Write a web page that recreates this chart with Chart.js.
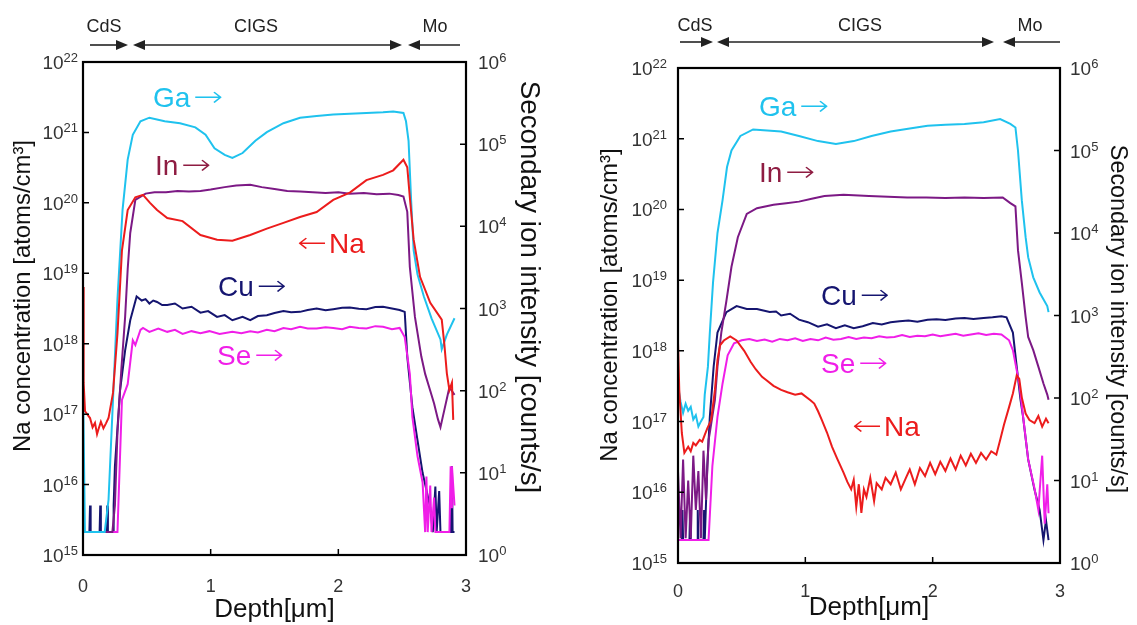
<!DOCTYPE html>
<html>
<head>
<meta charset="utf-8">
<script src="https://cdn.jsdelivr.net/npm/chart.js@4.4.1/dist/chart.umd.min.js"></script>
<style>
  body { margin: 0; background: #fff; }
  #wrap { position: relative; width: 1137px; height: 625px; }
  canvas { position: absolute; top: 0; }
  #left { left: 0; }
  #right { left: 568px; }
</style>
</head>
<body>
<div id="wrap">
  <canvas id="left" width="568" height="625"></canvas>
  <canvas id="right" width="569" height="625"></canvas>
</div>
<script>
const FONT = '"Liberation Sans", Arial, sans-serif';

// axis ticks: exponents of the two log axes, depth ticks in um
const naExp = [15, 16, 17, 18, 19, 20, 21, 22];
const ionExp = [0, 1, 2, 3, 4, 5, 6];
const depthTicks = [0, 1, 2, 3];

// ---- left panel, [depth um, value] ----
// Na in atoms/cm3, the rest in counts/s
const gaA = [[0,130],[0.015,1.9],[0.17,1.9],[0.2,4.7],[0.235,78],[0.27,1300],[0.31,16000],[0.35,65000],[0.39,130000],[0.45,190000],[0.52,210000],[0.64,190000],[0.76,180000],[0.88,160000],[0.96,130000],[1.03,89000],[1.11,74000],[1.17,68000],[1.25,78000],[1.35,110000],[1.44,140000],[1.57,180000],[1.7,210000],[1.83,220000],[1.96,230000],[2.09,235000],[2.22,240000],[2.35,245000],[2.43,250000],[2.51,240000],[2.53,190000],[2.55,110000],[2.57,21000],[2.59,5100],[2.62,2600],[2.67,1400],[2.73,760],[2.8,420],[2.81,320],[2.85,480],[2.91,760]];
const inA = [[0,1.9],[0.23,1.9],[0.25,4],[0.27,31],[0.3,180],[0.33,790],[0.35,3000],[0.37,8300],[0.41,21000],[0.49,25000],[0.56,26000],[0.65,26000],[0.74,27000],[0.83,26500],[0.92,27000],[1.0,28000],[1.11,30000],[1.2,31500],[1.31,32000],[1.4,30000],[1.5,28500],[1.6,27000],[1.7,26500],[1.8,26000],[1.9,25500],[2.0,26000],[2.09,25000],[2.2,25500],[2.3,24500],[2.4,25000],[2.47,24000],[2.51,23000],[2.54,15000],[2.56,3200],[2.6,790],[2.65,260],[2.68,160],[2.72,100],[2.75,70],[2.78,45],[2.8,36],[2.83,58],[2.87,110],[2.91,89]];
const naA = [[0,6.4e18],[0.005,2.8e17],[0.016,1.1e17],[0.055,8.8e16],[0.075,6.5e16],[0.094,7.5e16],[0.11,5.2e16],[0.12,6.0e16],[0.14,7.8e16],[0.16,6.3e16],[0.18,7.4e16],[0.2,8.8e16],[0.235,2.0e17],[0.27,1.4e18],[0.305,2.1e19],[0.35,7.9e19],[0.41,1.2e20],[0.47,1.3e20],[0.525,1.0e20],[0.58,7.9e19],[0.66,6.1e19],[0.78,5.5e19],[0.92,3.5e19],[1.05,3.0e19],[1.17,2.9e19],[1.31,3.5e19],[1.44,4.3e19],[1.57,5.2e19],[1.7,6.3e19],[1.83,7.4e19],[1.96,1.1e20],[2.09,1.4e20],[2.22,2.1e20],[2.35,2.5e20],[2.43,2.9e20],[2.51,4.1e20],[2.54,3.2e20],[2.56,1.2e20],[2.59,3.0e19],[2.64,8.9e18],[2.72,3.8e18],[2.81,2.2e18],[2.83,1.0e18],[2.85,3.8e17],[2.87,2.2e17],[2.89,2.8e17],[2.9,8.3e16]];
const cuA = [[0,1.9],[0.05,1.9],[0.055,4],[0.06,1.9],[0.13,1.9],[0.135,4],[0.14,1.9],[0.185,1.9],[0.19,4],[0.195,1.9],[0.235,1.9],[0.24,4],[0.25,12],[0.29,100],[0.33,310],[0.37,720],[0.42,1400],[0.46,1250],[0.49,1300],[0.52,1150],[0.55,1250],[0.58,1200],[0.62,1100],[0.66,1100],[0.72,1150],[0.78,1000],[0.85,1050],[0.92,890],[0.98,930],[1.05,790],[1.11,830],[1.17,720],[1.25,790],[1.31,720],[1.37,810],[1.44,830],[1.5,880],[1.57,930],[1.63,900],[1.7,910],[1.76,960],[1.83,1000],[1.9,950],[1.96,980],[2.03,1020],[2.09,1030],[2.16,990],[2.22,980],[2.29,1040],[2.35,1050],[2.42,1000],[2.48,960],[2.52,910],[2.54,260],[2.58,63],[2.62,25],[2.66,10],[2.72,3.8],[2.74,1.9],[2.76,6.8],[2.77,1.9],[2.79,6],[2.8,1.9],[2.88,1.9],[2.89,12],[2.895,1.9],[2.91,1.9]];
const seA = [[0,1.9],[0.27,1.9],[0.305,77],[0.35,120],[0.39,410],[0.41,360],[0.45,550],[0.47,580],[0.52,520],[0.59,570],[0.66,520],[0.72,550],[0.78,490],[0.85,530],[0.92,500],[0.99,530],[1.07,490],[1.17,520],[1.24,500],[1.31,530],[1.37,510],[1.44,550],[1.5,530],[1.57,580],[1.63,560],[1.7,600],[1.76,570],[1.83,570],[1.9,590],[1.96,580],[2.03,560],[2.09,600],[2.16,580],[2.22,570],[2.29,610],[2.35,600],[2.42,560],[2.48,580],[2.52,450],[2.56,160],[2.58,48],[2.62,16],[2.66,7.6],[2.68,1.9],[2.69,9],[2.7,1.9],[2.72,7],[2.73,1.9],[2.75,5],[2.76,1.9],[2.87,1.9],[2.88,12],[2.885,3.8],[2.89,12],[2.91,4]];

// ---- right panel ----
const gaB = [[0,140],[0.02,90],[0.04,66],[0.06,85],[0.08,70],[0.1,78],[0.12,55],[0.14,62],[0.16,45],[0.18,52],[0.2,59],[0.21,110],[0.235,240],[0.25,620],[0.275,2500],[0.31,10000],[0.35,25000],[0.385,63000],[0.42,100000],[0.49,150000],[0.59,180000],[0.7,175000],[0.81,170000],[0.95,150000],[1.1,130000],[1.24,120000],[1.38,130000],[1.52,150000],[1.67,170000],[1.82,185000],[1.96,200000],[2.1,205000],[2.25,210000],[2.4,220000],[2.53,240000],[2.61,210000],[2.65,190000],[2.67,100000],[2.7,25000],[2.73,8900],[2.75,5100],[2.79,2900],[2.84,1900],[2.9,1300],[2.91,1100]];
const inB = [[0,13],[0.02,2],[0.04,18],[0.06,2],[0.08,10],[0.1,2],[0.12,20],[0.14,4.4],[0.16,13],[0.18,2],[0.2,23],[0.22,5.8],[0.24,31],[0.25,38],[0.29,95],[0.31,240],[0.34,620],[0.38,1500],[0.42,3900],[0.47,8900],[0.54,17000],[0.62,20000],[0.75,22000],[0.85,23000],[0.95,24000],[1.05,26000],[1.15,28000],[1.3,29000],[1.5,28000],[1.65,27500],[1.8,27000],[1.95,27000],[2.1,26500],[2.25,27000],[2.4,26500],[2.55,27000],[2.61,23000],[2.65,21000],[2.67,6200],[2.7,2500],[2.73,960],[2.75,550],[2.79,380],[2.83,240],[2.87,150],[2.9,110],[2.91,95]];
const naB = [[0,1.3e18],[0.01,2.8e17],[0.03,6.9e16],[0.05,3.6e16],[0.08,4.4e16],[0.1,3.8e16],[0.12,5.0e16],[0.14,4.6e16],[0.17,5.5e16],[0.19,5.2e16],[0.21,6.5e16],[0.23,8e16],[0.26,1.05e17],[0.29,2.8e17],[0.31,7.4e17],[0.33,1.2e18],[0.36,1.4e18],[0.41,1.6e18],[0.46,1.4e18],[0.52,1.0e18],[0.57,7.0e17],[0.61,5.5e17],[0.66,4.3e17],[0.69,3.9e17],[0.75,3.2e17],[0.81,2.8e17],[0.86,2.6e17],[0.92,2.4e17],[0.97,2.5e17],[1.04,2.0e17],[1.07,1.8e17],[1.1,1.4e17],[1.13,1.05e17],[1.17,7e16],[1.21,4.4e16],[1.25,3.0e16],[1.3,1.9e16],[1.33,1.4e16],[1.36,1.1e16],[1.38,1.5e16],[1.4,6.2e15],[1.42,1.3e16],[1.44,5.1e15],[1.46,1.1e16],[1.48,8.6e15],[1.51,1.6e16],[1.54,7.5e15],[1.56,1.35e16],[1.6,1.1e16],[1.63,1.6e16],[1.67,1.3e16],[1.71,1.9e16],[1.75,1.1e16],[1.79,1.6e16],[1.82,2.1e16],[1.86,1.3e16],[1.9,2.2e16],[1.94,1.7e16],[1.98,2.6e16],[2.02,1.8e16],[2.06,2.7e16],[2.1,2.0e16],[2.14,3.0e16],[2.18,2.1e16],[2.22,3.3e16],[2.26,2.4e16],[2.3,3.5e16],[2.34,2.6e16],[2.38,3.6e16],[2.42,2.9e16],[2.46,3.8e16],[2.5,3.4e16],[2.53,5.5e16],[2.56,9e16],[2.6,1.6e17],[2.63,2.5e17],[2.66,4.5e17],[2.68,4.0e17],[2.7,2.2e17],[2.73,1.3e17],[2.76,1.05e17],[2.8,9.5e16],[2.83,1.2e17],[2.86,8.5e16],[2.89,1.1e17],[2.91,9.5e16]];
const cuB = [[0,1.9],[0.03,1.9],[0.035,4.4],[0.04,1.9],[0.09,1.9],[0.095,4.4],[0.1,1.9],[0.15,1.9],[0.155,4.4],[0.16,1.9],[0.2,1.9],[0.205,4.4],[0.21,1.9],[0.23,15],[0.25,59],[0.28,240],[0.31,620],[0.38,1100],[0.46,1300],[0.54,1200],[0.62,1200],[0.67,1150],[0.72,1100],[0.77,1120],[0.81,1000],[0.88,1050],[0.95,890],[1.02,830],[1.1,730],[1.17,780],[1.24,700],[1.31,760],[1.38,700],[1.45,740],[1.53,810],[1.6,780],[1.67,830],[1.74,850],[1.81,870],[1.88,840],[1.96,890],[2.03,900],[2.1,880],[2.18,920],[2.25,930],[2.32,910],[2.4,930],[2.47,950],[2.54,980],[2.58,950],[2.63,620],[2.66,240],[2.69,95],[2.71,59],[2.75,18],[2.8,7.7],[2.84,4.4],[2.87,1.9],[2.89,3.3],[2.91,1.9]];
const seB = [[0,1.9],[0.24,1.9],[0.27,15],[0.31,59],[0.35,150],[0.39,330],[0.44,460],[0.5,500],[0.56,520],[0.62,490],[0.68,510],[0.74,480],[0.8,520],[0.86,500],[0.92,530],[0.98,490],[1.04,520],[1.1,500],[1.16,540],[1.22,510],[1.28,520],[1.34,550],[1.4,520],[1.46,540],[1.52,530],[1.58,560],[1.64,540],[1.7,550],[1.76,580],[1.82,550],[1.88,570],[1.94,560],[2.0,590],[2.06,560],[2.12,580],[2.18,600],[2.24,570],[2.3,590],[2.36,610],[2.42,580],[2.48,600],[2.54,590],[2.6,500],[2.63,380],[2.68,150],[2.71,60],[2.75,18],[2.8,8],[2.83,4.4],[2.86,20],[2.88,3],[2.9,9],[2.91,4]];

const col = { ga: '#1fc2ee', in: '#7c1985', na: '#ec1c1c', cu: '#151570', se: '#f01ee8', inText: '#8e1c42' };

function powLabel(ctx, exp, x, yc, align) {
  ctx.textAlign = 'left';
  ctx.textBaseline = 'alphabetic';
  ctx.font = '19px ' + FONT;
  const w1 = ctx.measureText('10').width;
  ctx.font = '13px ' + FONT;
  const w2 = ctx.measureText(String(exp)).width;
  const x0 = align === 'right' ? x - w1 - w2 : x;
  ctx.font = '19px ' + FONT;
  ctx.fillText('10', x0, yc + 7);
  ctx.font = '13px ' + FONT;
  ctx.fillText(String(exp), x0 + w1, yc);
}

function vTitle(ctx, text, t, rot) {
  ctx.save();
  ctx.font = '22px ' + FONT;
  const size = 22 * t[2] / ctx.measureText(text).width;
  ctx.font = size.toFixed(1) + 'px ' + FONT;
  ctx.translate(t[0], t[1]);
  ctx.rotate(rot);
  ctx.textAlign = 'center';
  ctx.textBaseline = 'middle';
  ctx.fillText(text, 0, 0);
  ctx.restore();
}

// arrow glyph stretched to a fixed width, as in the long thin arrows of the figure
function arrowGlyph(ctx, g, x, y, w) {
  ctx.save();
  ctx.font = '200 28px "DejaVu Sans"';
  const m = ctx.measureText(g).width;
  ctx.translate(x, y);
  ctx.scale(w / m, 1);
  ctx.textAlign = 'left';
  ctx.fillText(g, 0, 0);
  ctx.restore();
}

function seriesLabel(ctx, l) {
  const word = l.t.replace(/[←→]/g, '');
  const aw = 30;
  ctx.fillStyle = l.c;
  ctx.font = '28px ' + FONT;
  ctx.textAlign = 'left';
  ctx.textBaseline = 'middle';
  if (l.t.startsWith('←')) {
    arrowGlyph(ctx, '←', l.x, l.y, aw);
    ctx.fillText(word, l.x + aw + 2, l.y);
  } else {
    const ww = ctx.measureText(word).width;
    ctx.fillText(word, l.x, l.y);
    arrowGlyph(ctx, '→', l.x + ww + 3, l.y, aw);
  }
}

function head(ctx, x, y, dir) {
  ctx.beginPath();
  ctx.moveTo(x, y);
  ctx.lineTo(x - dir * 12, y - 5);
  ctx.lineTo(x - dir * 12, y + 5);
  ctx.closePath();
  ctx.fill();
}

function arrow(ctx, x0, x1, y, both) {
  const dir = Math.sign(x1 - x0);
  ctx.beginPath();
  ctx.moveTo(x0 + (both ? dir * 10 : 0), y);
  ctx.lineTo(x1 - dir * 10, y);
  ctx.stroke();
  head(ctx, x1, y, dir);
  if (both) head(ctx, x0, y, -dir);
}

const decor = {
  id: 'decor',
  afterDatasetsDraw(chart, args, o) {
    const { ctx, chartArea: a } = chart;
    const { x, y, y1 } = chart.scales;
    ctx.save();

    // frame and inner tick marks
    ctx.strokeStyle = '#000';
    ctx.lineWidth = 2.2;
    ctx.strokeRect(a.left, a.top, a.right - a.left, a.bottom - a.top);
    ctx.lineWidth = 1.5;
    ctx.beginPath();
    naExp.forEach(e => { const p = y.getPixelForValue(10 ** e); ctx.moveTo(a.left, p); ctx.lineTo(a.left + 6, p); });
    ionExp.forEach(e => { const p = y1.getPixelForValue(10 ** e); ctx.moveTo(a.right, p); ctx.lineTo(a.right - 6, p); });
    depthTicks.forEach(d => { const p = x.getPixelForValue(d); ctx.moveTo(p, a.bottom); ctx.lineTo(p, a.bottom - 6); });
    ctx.stroke();

    // tick labels
    ctx.fillStyle = '#333';
    naExp.forEach(e => powLabel(ctx, e, a.left - o.leftGap, y.getPixelForValue(10 ** e), 'right'));
    ionExp.forEach(e => powLabel(ctx, e, a.right + o.rightGap, y1.getPixelForValue(10 ** e), 'left'));
    ctx.font = '18px ' + FONT;
    ctx.textAlign = 'center';
    ctx.textBaseline = 'middle';
    depthTicks.forEach(d => ctx.fillText(String(d), x.getPixelForValue(d), a.bottom + o.xGap));

    // axis titles
    ctx.fillStyle = '#111';
    vTitle(ctx, 'Na concentration [atoms/cm³]', o.lt, -Math.PI / 2);
    vTitle(ctx, 'Secondary ion intensity [counts/s]', o.rt, Math.PI / 2);

    // series labels
    o.labels.forEach(l => seriesLabel(ctx, l));

    // layer markers on top
    const L = o.layers;
    ctx.fillStyle = '#222';
    ctx.strokeStyle = '#222';
    ctx.lineWidth = 1.6;
    ctx.font = '18px ' + FONT;
    ctx.textAlign = 'center';
    ctx.textBaseline = 'middle';
    ctx.fillText('CdS', L.cds.tx, L.ty);
    ctx.fillText('CIGS', L.cigs.tx, L.ty);
    ctx.fillText('Mo', L.mo.tx, L.ty);
    arrow(ctx, L.cds.x0, L.cds.tip, L.ay, false);
    arrow(ctx, L.cigs.l, L.cigs.r, L.ay, true);
    arrow(ctx, L.mo.x0, L.mo.tip, L.ay, false);

    ctx.restore();
  }
};

function makeChart(id, sets, o) {
  const hidden = { display: false };
  return new Chart(document.getElementById(id), {
    type: 'line',
    data: {
      datasets: sets.map(s => ({
        data: s.data.map(p => ({ x: p[0], y: p[1] })),
        yAxisID: s.axis,
        borderColor: s.color,
        borderWidth: 2,
        pointRadius: 0,
        tension: 0,
        fill: false
      }))
    },
    options: {
      responsive: false,
      animation: false,
      devicePixelRatio: 1,
      layout: { padding: { top: o.top, left: 0, right: 0, bottom: 0 } },
      plugins: { legend: hidden, tooltip: { enabled: false }, decor: o },
      scales: {
        x: {
          type: 'linear', min: 0, max: 3,
          grid: hidden, border: hidden, ticks: hidden,
          title: { display: true, text: 'Depth[μm]', color: '#111',
                   font: { size: 26, family: FONT }, padding: { top: 0, bottom: o.xtPad } },
          afterFit: s => { s.height = o.xH; }
        },
        y: {
          type: 'logarithmic', position: 'left', min: 1e15, max: 1e22,
          grid: hidden, border: hidden, ticks: hidden,
          afterFit: s => { s.width = o.yW; }
        },
        y1: {
          type: 'logarithmic', position: 'right', min: 1, max: 1e6,
          grid: hidden, border: hidden, ticks: hidden,
          afterFit: s => { s.width = o.y1W; }
        }
      }
    },
    plugins: [decor]
  });
}

makeChart('left', [
  { data: naA, axis: 'y', color: col.na },
  { data: gaA, axis: 'y1', color: col.ga },
  { data: inA, axis: 'y1', color: col.in },
  { data: seA, axis: 'y1', color: col.se },
  { data: cuA, axis: 'y1', color: col.cu }
], {
  top: 62, yW: 83, y1W: 102, xH: 70, xtPad: 0,
  leftGap: 5, rightGap: 12, xGap: 32,
  lt: [23, 296, 312], rt: [529, 287, 413],
  labels: [
    { t: 'Ga→', c: col.ga, x: 153, y: 99 },
    { t: 'In→', c: col.inText, x: 155, y: 167 },
    { t: '←Na', c: col.na, x: 297, y: 245 },
    { t: 'Cu→', c: col.cu, x: 218, y: 288 },
    { t: 'Se→', c: col.se, x: 217, y: 357 }
  ],
  layers: { ty: 27, ay: 45,
    cds: { tx: 104, x0: 90, tip: 128 },
    cigs: { tx: 256, l: 133, r: 402 },
    mo: { tx: 435, x0: 460, tip: 408 } }
});

makeChart('right', [
  { data: naB, axis: 'y', color: col.na },
  { data: gaB, axis: 'y1', color: col.ga },
  { data: inB, axis: 'y1', color: col.in },
  { data: seB, axis: 'y1', color: col.se },
  { data: cuB, axis: 'y1', color: col.cu }
], {
  top: 68, yW: 110, y1W: 77, xH: 62, xtPad: 2,
  leftGap: 11, rightGap: 10, xGap: 29,
  lt: [42, 305, 314], rt: [549, 319, 348],
  labels: [
    { t: 'Ga→', c: col.ga, x: 191, y: 108 },
    { t: 'In→', c: col.inText, x: 191, y: 174 },
    { t: 'Cu→', c: col.cu, x: 253, y: 297 },
    { t: 'Se→', c: col.se, x: 253, y: 365 },
    { t: '←Na', c: col.na, x: 284, y: 428 }
  ],
  layers: { ty: 26, ay: 42,
    cds: { tx: 127, x0: 112, tip: 145 },
    cigs: { tx: 292, l: 149, r: 426 },
    mo: { tx: 462, x0: 492, tip: 435 } }
});
</script>
</body>
</html>
